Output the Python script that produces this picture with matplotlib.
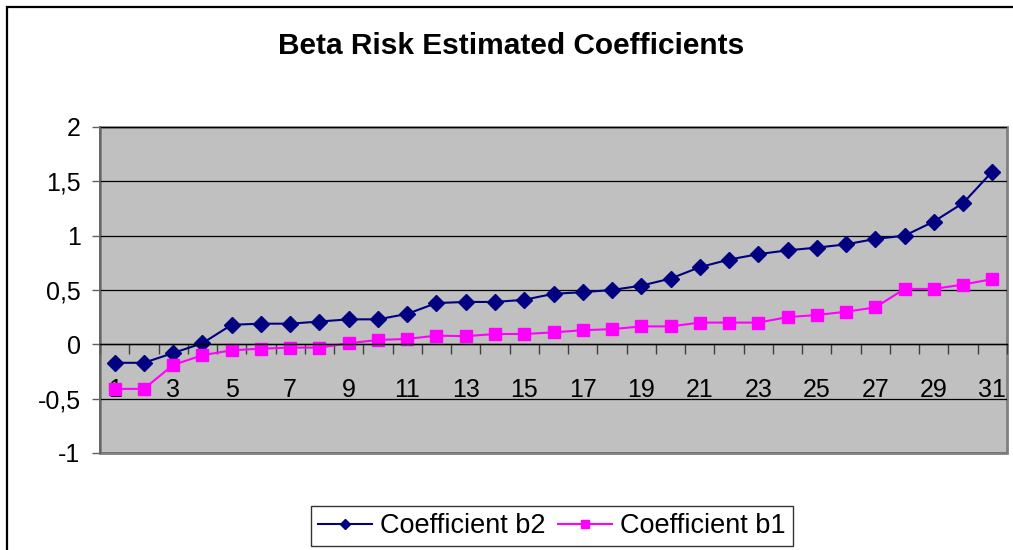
import matplotlib.pyplot as plt
from matplotlib.patches import Rectangle
from matplotlib.ticker import FixedLocator, FuncFormatter

plt.rcParams['font.family'] = ['Liberation Sans', 'DejaVu Sans']

# data
obs = list(range(1, 32))
coef_b2 = [-0.17, -0.17, -0.08, 0.01, 0.18, 0.19, 0.19, 0.21, 0.23, 0.23,
           0.28, 0.38, 0.39, 0.39, 0.41, 0.465, 0.48, 0.50, 0.54, 0.605,
           0.71, 0.78, 0.83, 0.865, 0.89, 0.92, 0.97, 1.00, 1.13, 1.30, 1.59]
coef_b1 = [-0.41, -0.41, -0.19, -0.10, -0.055, -0.04, -0.03, -0.03, 0.01, 0.04,
           0.05, 0.08, 0.075, 0.095, 0.095, 0.11, 0.13, 0.14, 0.165, 0.165,
           0.20, 0.20, 0.20, 0.25, 0.27, 0.30, 0.34, 0.51, 0.51, 0.55, 0.60]
yticks = [-1, -0.5, 0, 0.5, 1, 1.5, 2]
title = "Beta Risk Estimated Coefficients"

fig = plt.figure(figsize=(10.13, 5.5), dpi=100)
ax = fig.add_axes([100/1013, 1-453/550, 907/1013, 326/550])

ax.patch.set_facecolor('#C0C0C0')
ax.patch.set_edgecolor('#808080')
ax.patch.set_linewidth(2)

# lines under the tick labels, as in the reference ("1" shows over the marker)
ax.plot(obs, coef_b2, color='#000080', lw=1.5, marker='D', ms=8.5,
        label='Coefficient b2', zorder=2)
ax.plot(obs, coef_b1, color='#FF00FF', lw=1.5, marker='s', ms=8.5,
        label='Coefficient b1', zorder=2)

ax.set_xlim(0.5, 31.5)
ax.set_ylim(-1, 2)

# y axis
ax.set_yticks(yticks)
ax.yaxis.set_major_formatter(FuncFormatter(lambda v, p: f"{v:g}".replace('.', ',')))
ax.tick_params(axis='y', direction='out', length=6, width=1, color='#606060',
               labelsize=18, pad=8)
ax.yaxis.grid(True, color='black', lw=0.9)
ax.set_axisbelow(True)

# category axis crossing at zero
ax.spines['bottom'].set_position(('data', 0))
ax.spines['bottom'].set_color('black')
ax.spines['bottom'].set_linewidth(1)
ax.spines['left'].set_color('#606060')
ax.spines['left'].set_linewidth(1.2)
ax.spines['top'].set_visible(False)
ax.spines['right'].set_visible(False)
ax.xaxis.set_major_locator(FixedLocator(obs[::2]))
ax.xaxis.set_minor_locator(FixedLocator([i + 0.5 for i in range(0, 32)]))
ax.tick_params(axis='x', which='major', length=0, labelsize=18, pad=24)
ax.tick_params(axis='x', which='minor', direction='out', length=7, width=1,
               color='#404040')

fig.text(0.505, 1-46/550, title, ha='center', va='center',
         fontsize=21.5, fontweight='bold')

leg = fig.legend(loc='center', bbox_to_anchor=(552/1013, 1-526/550), ncol=2,
                 fontsize=19.5, frameon=True, fancybox=False, edgecolor='black',
                 borderpad=0.25, handlelength=2.0, handletextpad=0.3,
                 columnspacing=0.45, borderaxespad=0, markerscale=0.65)
leg.get_frame().set_linewidth(1)

# outer chart border
fig.patches.append(Rectangle((7/1013, -0.1), 1.2, (550-7)/550 + 0.1,
                             transform=fig.transFigure, fill=False,
                             ec='black', lw=1.6))

fig.savefig('out.png', dpi=100)
